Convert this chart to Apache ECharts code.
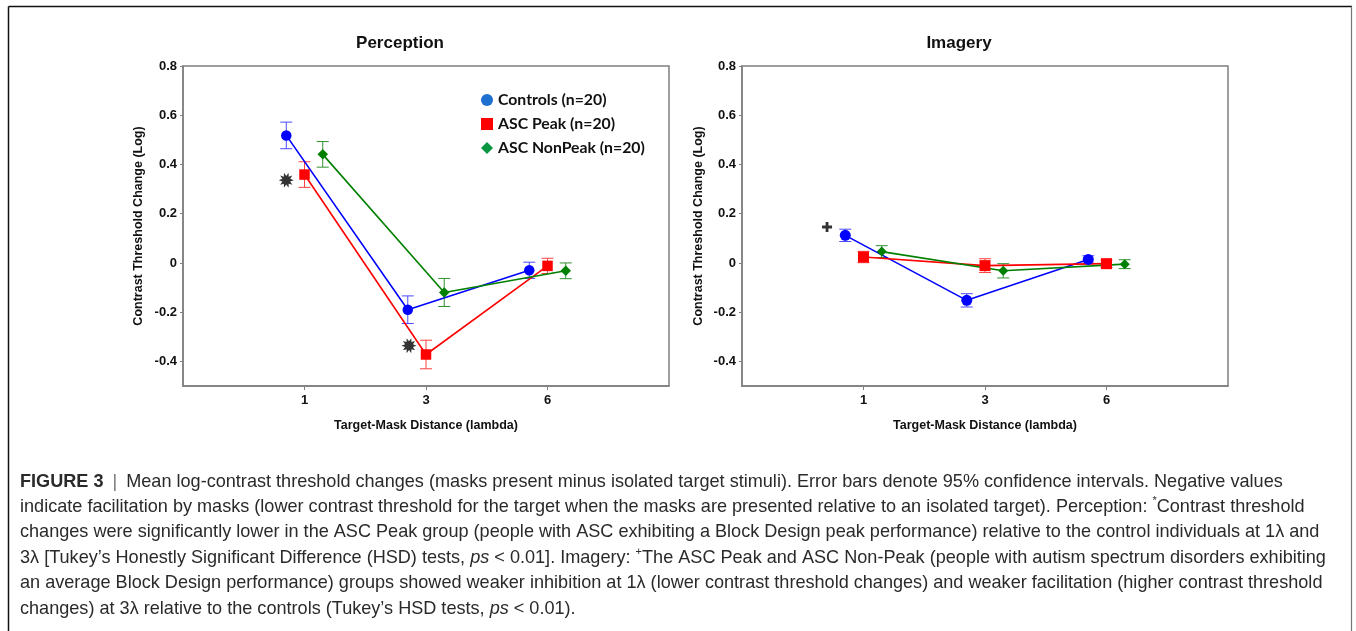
<!DOCTYPE html>
<html>
<head>
<meta charset="utf-8">
<title>Figure 3 – contrast threshold changes</title>
<script src="https://cdn.jsdelivr.net/npm/echarts@6/dist/echarts.min.js"></script>
<style>
html, body { margin: 0; padding: 0; background: #fff; }
#chart { width: 1356px; height: 631px; }
</style>
</head>
<body>
<div id="chart"></div>
<script>
// categories (target-mask distance, lambda)
const distanceLabels = ['1', '3', '6']
const groupNames = ['Controls (n=20)', 'ASC Peak (n=20)', 'ASC NonPeak (n=20)']
const yTickValues = [-0.4, -0.2, 0, 0.2, 0.4, 0.6, 0.8]

// Perception: mean log-contrast threshold change and 95% CI half width
const perceptionControls = [0.518, -0.19, -0.03]
const perceptionControlsCI = [0.054, 0.056, 0.033]
const perceptionPeak = [0.359, -0.372, -0.012]
const perceptionPeakCI = [0.052, 0.058, 0.031]
const perceptionNonPeak = [0.441, -0.12, -0.032]
const perceptionNonPeakCI = [0.052, 0.057, 0.032]

// Imagery
const imageryControls = [0.112, -0.152, 0.014]
const imageryControlsCI = [0.025, 0.027, 0.015]
const imageryPeak = [0.024, -0.011, -0.003]
const imageryPeakCI = [0.023, 0.028, 0.015]
const imageryNonPeak = [0.046, -0.032, -0.005]
const imageryNonPeakCI = [0.024, 0.029, 0.018]

// significance marks (x in axis units, y in log units)
const starX = [0.85, 1.86]
const starY = [0.336, -0.336]
const plusX = [0.7]
const plusY = [0.146]

const captionLines = [
    '{b|FIGURE 3} {bar||} Mean log-contrast threshold changes (masks present minus isolated target stimuli). Error bars denote 95% confidence intervals. Negative values',
    'indicate facilitation by masks (lower contrast threshold for the target when the masks are presented relative to an isolated target). Perception: {sup|*}Contrast threshold',
    'changes were significantly lower in the ASC Peak group (people with ASC exhibiting a Block Design peak performance) relative to the control individuals at 1λ and',
    '3λ [Tukey’s Honestly Significant Difference (HSD) tests, {i|ps} < 0.01]. Imagery: {sup|+}The ASC Peak and ASC Non-Peak (people with autism spectrum disorders exhibiting',
    'an average Block Design performance) groups showed weaker inhibition at 1λ (lower contrast threshold changes) and weaker facilitation (higher contrast threshold',
    'changes) at 3λ relative to the controls (Tukey’s HSD tests, {i|ps} < 0.01).',
]

const dodge = [-0.15, 0, 0.15]
const lineColors = ['#0000ff', '#ff0000', '#008000']
const barColors = ['#4b4bff', '#ff4040', '#2f912f']
const symbols = ['circle', 'rect', 'diamond']
const STAR = 'path://M20 10L15.23 8.3L18.09 4.12L13.23 5.55L13.09 0.49L10 4.5L6.91 0.49L6.77 5.55L1.91 4.12L4.77 8.3L0 10L4.77 11.7L1.91 15.88L6.77 14.45L6.91 19.51L10 15.5L13.09 19.51L13.23 14.45L18.09 15.88L15.23 11.7Z'
const PLUS = 'path://M3.6 0H6.4V3.6H10V6.4H6.4V10H3.6V6.4H0V3.6H3.6Z'
const FONT = '"Liberation Sans", Arial, sans-serif'
const CAPTION_SIZE = 18.1
const CAPTION_COLOR = '#2a2a2a'
const AXIS_GRAY = '#7f7f7f'

const panels = [
    { title: 'Perception', means: [perceptionControls, perceptionPeak, perceptionNonPeak],
      cis: [perceptionControlsCI, perceptionPeakCI, perceptionNonPeakCI], sizes: [10.5, 10.5, 10.5] },
    { title: 'Imagery', means: [imageryControls, imageryPeak, imageryNonPeak],
      cis: [imageryControlsCI, imageryPeakCI, imageryNonPeakCI], sizes: [11, 11, 10] },
]

function errorBarItem(params, api) {
    const x = api.value(0)
    const lo = api.coord([x, api.value(1)])
    const hi = api.coord([x, api.value(2)])
    const half = 6
    const style = { stroke: api.visual('color'), lineWidth: 1 }
    return {
        type: 'group',
        children: [
            { type: 'line', shape: { x1: lo[0], y1: lo[1], x2: hi[0], y2: hi[1] }, style },
            { type: 'line', shape: { x1: lo[0] - half, y1: lo[1], x2: lo[0] + half, y2: lo[1] }, style },
            { type: 'line', shape: { x1: hi[0] - half, y1: hi[1], x2: hi[0] + half, y2: hi[1] }, style },
        ],
    }
}

function buildPanelSeries(panel, g) {
    const out = []
    panel.means.forEach((vals, k) => {
        out.push({
            type: 'custom',
            name: groupNames[k] + ' CI',
            xAxisIndex: g,
            yAxisIndex: g,
            renderItem: errorBarItem,
            itemStyle: { color: barColors[k] },
            data: vals.map((v, i) => [i + 1 + dodge[k], v - panel.cis[k][i], v + panel.cis[k][i]]),
            z: 2,
            silent: true,
        })
        out.push({
            type: 'line',
            name: groupNames[k],
            xAxisIndex: g,
            yAxisIndex: g,
            data: vals.map((v, i) => [i + 1 + dodge[k], v]),
            symbol: symbols[k],
            symbolSize: panel.sizes[k],
            showSymbol: true,
            lineStyle: { color: lineColors[k], width: 1.6 },
            itemStyle: { color: lineColors[k] },
            z: 3,
        })
    })
    return out
}

const grids = [
    { left: 183, top: 66, width: 486, height: 320 },
    { left: 742, top: 66, width: 486, height: 320 },
]

const chart = echarts.init(document.getElementById('chart'))

const captionRich = {
    b: { fontFamily: FONT, fontSize: CAPTION_SIZE, fontWeight: 'bold', color: CAPTION_COLOR },
    bar: { fontFamily: FONT, fontSize: CAPTION_SIZE, color: '#777', padding: [0, 4, 0, 4] },
    i: { fontFamily: FONT, fontSize: CAPTION_SIZE, fontStyle: 'italic', color: CAPTION_COLOR },
    sup: { fontFamily: FONT, fontSize: 11, color: CAPTION_COLOR, verticalAlign: 'top' },
}

const option = {
    animation: false,
    textStyle: { fontFamily: FONT },
    title: [
        { text: panels[0].title, left: 400, top: 35, textAlign: 'center', padding: 0,
          textStyle: { fontFamily: FONT, fontSize: 17, fontWeight: 'bold', color: '#111' } },
        { text: panels[1].title, left: 959, top: 35, textAlign: 'center', padding: 0,
          textStyle: { fontFamily: FONT, fontSize: 17, fontWeight: 'bold', color: '#111' } },
        ...captionLines.map((line, i) => ({
            text: line,
            left: 20,
            top: 470.5 + i * 25.4,
            padding: 0,
            textStyle: {
                fontFamily: FONT, fontSize: CAPTION_SIZE, fontWeight: 'normal', color: CAPTION_COLOR, lineHeight: 22,
                rich: captionRich,
            },
        })),
    ],
    legend: {
        orient: 'vertical',
        left: 481,
        top: 92,
        padding: 0,
        itemWidth: 12,
        itemHeight: 12,
        itemGap: 8,
        textStyle: { fontFamily: 'Lato, "Open Sans", sans-serif', fontWeight: 'bold', fontSize: 15.8, color: '#111' },
        data: [
            { name: groupNames[0], icon: 'circle', itemStyle: { color: '#1d6fd0' } },
            { name: groupNames[1], icon: 'rect', itemStyle: { color: '#ff0000' } },
            { name: groupNames[2], icon: 'diamond', itemStyle: { color: '#0a9640' } },
        ],
    },
    grid: grids.map((g) => ({ ...g, show: true, borderColor: AXIS_GRAY, borderWidth: 1.5 })),
    xAxis: grids.map((g, i) => ({
        type: 'value',
        gridIndex: i,
        min: 0,
        max: 4,
        name: 'Target-Mask Distance (lambda)',
        nameLocation: 'middle',
        nameGap: 33,
        nameTextStyle: { fontFamily: FONT, fontSize: 12.5, fontWeight: 'bold', color: '#111' },
        axisLine: { show: true, onZero: false, lineStyle: { color: AXIS_GRAY, width: 1.5 } },
        axisTick: { show: true, customValues: [1, 2, 3], length: 4, lineStyle: { color: AXIS_GRAY } },
        axisLabel: {
            customValues: [1, 2, 3],
            formatter: (v) => distanceLabels[Math.round(v) - 1],
            fontFamily: FONT, fontSize: 13, fontWeight: 'bold', color: '#111', margin: 8,
        },
        splitLine: { show: false },
    })),
    yAxis: grids.map((g, i) => ({
        type: 'value',
        gridIndex: i,
        min: -0.5,
        max: 0.8,
        name: 'Contrast Threshold Change (Log)',
        nameLocation: 'middle',
        nameGap: i === 0 ? 37.5 : 36.5,
        nameTextStyle: { fontFamily: FONT, fontSize: 12.5, fontWeight: 'bold', color: '#111' },
        axisLine: { show: true, onZero: false, lineStyle: { color: AXIS_GRAY, width: 1.5 } },
        axisTick: { show: true, customValues: yTickValues, length: 3, lineStyle: { color: AXIS_GRAY } },
        axisLabel: {
            customValues: yTickValues,
            formatter: (v) => (Math.abs(v) < 1e-9 ? '0' : v.toFixed(1)),
            fontFamily: FONT, fontSize: 13, fontWeight: 'bold', color: '#111', margin: 6,
        },
        splitLine: { show: false },
    })),
    series: [
        ...buildPanelSeries(panels[0], 0),
        ...buildPanelSeries(panels[1], 1),
        {
            type: 'scatter',
            name: 'star',
            xAxisIndex: 0,
            yAxisIndex: 0,
            data: starX.map((x, i) => [x, starY[i]]),
            symbol: STAR,
            symbolSize: 15,
            itemStyle: { color: '#000' },
            z: 4,
            silent: true,
        },
        {
            type: 'scatter',
            name: 'plus',
            xAxisIndex: 1,
            yAxisIndex: 1,
            data: plusX.map((x, i) => [x, plusY[i]]),
            symbol: PLUS,
            symbolSize: 10,
            itemStyle: { color: '#000' },
            z: 4,
            silent: true,
        },
    ],
    graphic: [
        { type: 'line', shape: { x1: 8.5, y1: 6.5, x2: 1352, y2: 6.5 }, style: { stroke: '#111', lineWidth: 1.5 } },
        { type: 'line', shape: { x1: 8.5, y1: 6.5, x2: 8.5, y2: 640 }, style: { stroke: '#111', lineWidth: 1.5 } },
        { type: 'line', shape: { x1: 1351.5, y1: 6.5, x2: 1351.5, y2: 640 }, style: { stroke: '#777', lineWidth: 1.2 } },
    ],
}

chart.setOption(option)
</script>
</body>
</html>
